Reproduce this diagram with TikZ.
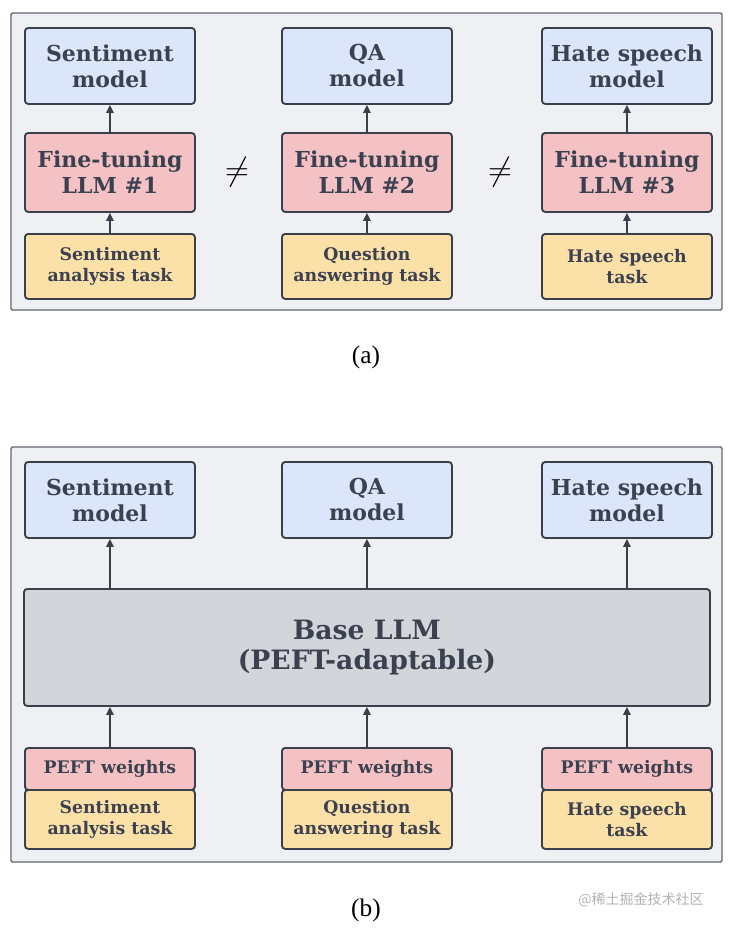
\documentclass[tikz,border=0pt]{standalone}
\usepackage{fontspec}
\setmainfont{DejaVu Serif}
\newfontfamily\capfont{Liberation Serif}
\newfontfamily\cjk{Noto Sans CJK SC}
\usetikzlibrary{arrows.meta}
\definecolor{edgegray}{HTML}{3A3F4A}
\definecolor{txtgray}{HTML}{3C4150}
\definecolor{panelfill}{HTML}{EEF0F3}
\definecolor{modelfill}{HTML}{DBE6FB}
\definecolor{tunefill}{HTML}{F4C2C4}
\definecolor{taskfill}{HTML}{FBE0A8}
\definecolor{basefill}{HTML}{D2D5DA}
\tikzset{
  box/.style={draw=edgegray,line width=1.4pt,rounded corners=2.5pt,align=center,
    text=txtgray,font=\bfseries,inner sep=0pt,anchor=north west},
  model/.style={box,fill=modelfill,font=\fontsize{16.5}{19.5}\bfseries\selectfont},
  tune/.style={box,fill=tunefill,font=\fontsize{16.5}{19.5}\bfseries\selectfont},
  task/.style={box,fill=taskfill,font=\fontsize{13}{15.5}\bfseries\selectfont},
  peft/.style={box,fill=tunefill,font=\fontsize{13}{15.5}\bfseries\selectfont},
  panel/.style={draw=edgegray!80,line width=1pt,fill=panelfill,rounded corners=1pt},
  link/.style={-{Triangle[length=6pt,width=5.5pt]},draw=edgegray,line width=1.3pt},
}
\begin{document}
\begin{tikzpicture}[x=0.75pt,y=-0.75pt]
\useasboundingbox (0,0) rectangle (734,932);
% panel (a)
\draw[panel] (11,13) rectangle (722,310);
\foreach \n/\x/\m/\t/\k in {1/24/Sentiment\\model/Sentiment\\analysis task/1,
    2/281/QA\\model/Question\\answering task/2,
    3/541/Hate speech\\model/Hate speech\\task/3}{
  \node[model,minimum width=170*0.75pt,minimum height=76*0.75pt] (am\n) at (\x,27) {\m};
  \node[tune,minimum width=170*0.75pt,minimum height=79*0.75pt] (af\n) at (\x,132) {Fine-tuning\\LLM \#\k};
  \node[task,minimum width=170*0.75pt,minimum height=65*0.75pt] (at\n) at (\x,233) {\t};
  \draw[link] (at\n) -- (af\n);
  \draw[link] (af\n) -- (am\n);
}
\node[font=\fontsize{24}{24}\selectfont,text=black] (ne1) at (237,172) {$\neq$};
\node[font=\fontsize{24}{24}\selectfont,text=black] (ne2) at (500,172) {$\neq$};
\node[font=\capfont\fontsize{19}{19}\selectfont] (capa) at (366,357) {(a)};
% panel (b)
\draw[panel] (11,447) rectangle (722,862);
\node[box,fill=basefill,minimum width=686*0.75pt,minimum height=117*0.75pt,
  font=\fontsize{20}{23}\bfseries\selectfont] (base) at (23,588) {Base LLM\\(PEFT-adaptable)};
\foreach \n/\x/\m/\t in {1/24/Sentiment\\model/Sentiment\\analysis task,
    2/281/QA\\model/Question\\answering task,
    3/541/Hate speech\\model/Hate speech\\task}{
  \node[model,minimum width=170*0.75pt,minimum height=76*0.75pt] (bm\n) at (\x,461) {\m};
  \node[peft,minimum width=170*0.75pt,minimum height=42*0.75pt] (bp\n) at (\x,747) {PEFT weights};
  \node[task,minimum width=170*0.75pt,minimum height=59*0.75pt] (bt\n) at (\x,789) {\t};
  \draw[link] (bp\n) -- (bp\n |- base.south);
  \draw[link] (bm\n |- base.north) -- (bm\n);
}
\node[font=\capfont\fontsize{19}{19}\selectfont] (capb) at (366,910) {(b)};
\node[font=\cjk\fontsize{10.5}{12}\selectfont,text=gray!60] (mark) at (641,900) {@稀土掘金技术社区};
\end{tikzpicture}
\end{document}
